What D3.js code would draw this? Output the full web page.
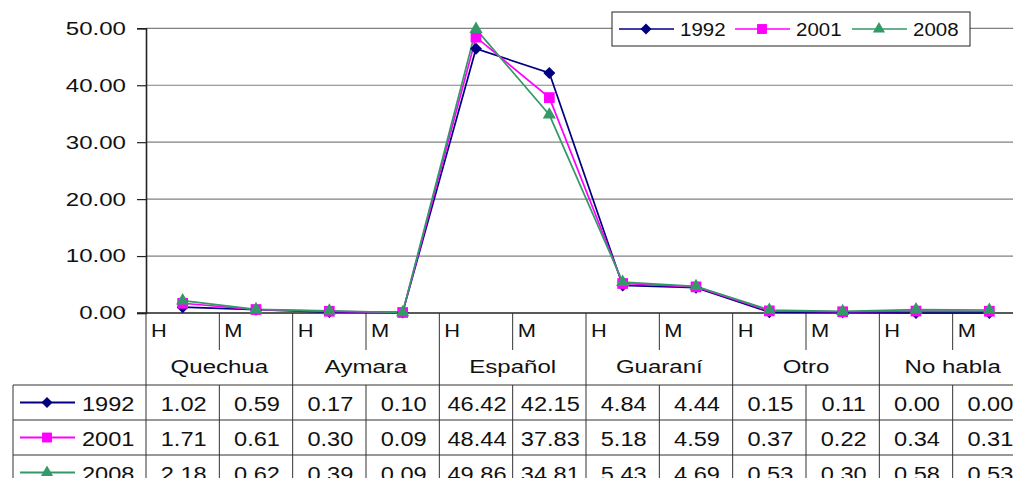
<!DOCTYPE html>
<html lang="es">
<head>
<meta charset="UTF-8">
<title>Idioma por sexo</title>
<script src="https://d3js.org/d3.v7.min.js"></script>
<style>
  body { margin: 0; background: #fff; }
  svg { font-family: "Liberation Sans", Arial, sans-serif; }
  text { fill: #111; }
</style>
</head>
<body>
<script>
  const languages = ["Quechua", "Aymara", "Español", "Guaraní", "Otro", "No habla"];
  const sexes = ["H", "M"];
  const years = ["1992", "2001", "2008"];
  const values1992 = [1.02, 0.59, 0.17, 0.10, 46.42, 42.15, 4.84, 4.44, 0.15, 0.11, 0.00, 0.00];
  const values2001 = [1.71, 0.61, 0.30, 0.09, 48.44, 37.83, 5.18, 4.59, 0.37, 0.22, 0.34, 0.31];
  const values2008 = [2.18, 0.62, 0.39, 0.09, 49.86, 34.81, 5.43, 4.69, 0.53, 0.30, 0.58, 0.53];
  const yTicks = [0, 10, 20, 30, 40, 50];

  // diamond drawn as a square turned 45 degrees (wider than d3's own diamond)
  const wideDiamond = {
    draw(ctx, size) {
      const r = Math.sqrt(size / 2);
      ctx.moveTo(0, -r); ctx.lineTo(r, 0); ctx.lineTo(0, r); ctx.lineTo(-r, 0); ctx.closePath();
    }
  };

  const series = [
    { name: years[0], values: values1992, color: "#000080", symbol: wideDiamond, size: 72 },
    { name: years[1], values: values2001, color: "#ff00ff", symbol: d3.symbolSquare, size: 115 },
    { name: years[2], values: values2008, color: "#339966", symbol: d3.symbolTriangle, size: 75 }
  ];

  const width = 1013, height = 478;
  const plotLeft = 146, plotRight = 1026, plotTop = 28.3, plotBottom = 313;
  const rowH = 35, tableTop = 385, tableLeft = 13;

  const cats = d3.range(languages.length * sexes.length);
  const x = d3.scaleBand().domain(cats).range([plotLeft, plotRight]);
  const y = d3.scaleLinear().domain([0, 50]).range([plotBottom, plotTop]);

  const svg = d3.select("body").append("svg")
    .attr("width", width)
    .attr("height", height);

  // the source picture's text is stretched sideways, so texts get a horizontal scale
  function wide(sel, px, py, sx) {
    return sel.attr("transform", (d, i) => `translate(${px(d, i)},${py(d, i)}) scale(${sx},1)`);
  }

  // gridlines
  svg.append("g")
    .selectAll("line")
    .data(yTicks.filter(d => d > 0))
    .join("line")
    .attr("x1", plotLeft).attr("x2", plotRight)
    .attr("y1", d => y(d)).attr("y2", d => y(d))
    .attr("stroke", "#808080").attr("stroke-width", 1.2);

  // y axis
  const yAxis = svg.append("g")
    .attr("transform", `translate(${plotLeft},0)`)
    .call(d3.axisLeft(y).tickValues(yTicks).tickFormat(d3.format(".2f")).tickSize(9));
  yAxis.select(".domain").attr("stroke", "#222").attr("stroke-width", 1.6);
  yAxis.selectAll(".tick line").attr("stroke", "#222").attr("stroke-width", 1.2);
  yAxis.selectAll(".tick text")
    .attr("x", null)
    .attr("transform", "translate(-20,0) scale(1.3,1)")
    .attr("font-size", 18.5).attr("fill", "#111")
    .attr("font-family", "Liberation Sans, Arial, sans-serif");

  // baseline at zero
  svg.append("line")
    .attr("x1", plotLeft - 9).attr("x2", plotRight)
    .attr("y1", y(0)).attr("y2", y(0))
    .attr("stroke", "#222").attr("stroke-width", 1.6);

  // category axis: H / M row
  const bw = x.bandwidth();
  const catG = svg.append("g");
  catG.selectAll("line.sep")
    .data(cats.filter(i => i % 2 === 1))
    .join("line").attr("class", "sep")
    .attr("x1", i => x(i)).attr("x2", i => x(i))
    .attr("y1", y(0)).attr("y2", 350)
    .attr("stroke", "#333").attr("stroke-width", 1);
  wide(catG.selectAll("text.sex")
    .data(cats)
    .join("text").attr("class", "sex")
    .attr("font-size", 19)
    .text(i => sexes[i % 2]), i => x(i) + 5, () => 337, 1.15);

  // language group lines (extend down through table)
  catG.selectAll("line.grp")
    .data(d3.range(languages.length + 1))
    .join("line").attr("class", "grp")
    .attr("x1", g => plotLeft + g * 2 * bw).attr("x2", g => plotLeft + g * 2 * bw)
    .attr("y1", y(0)).attr("y2", height)
    .attr("stroke", "#333").attr("stroke-width", 1);
  wide(catG.selectAll("text.lang")
    .data(languages)
    .join("text").attr("class", "lang")
    .attr("text-anchor", "middle")
    .attr("font-size", 18.5)
    .text(d => d), (d, g) => plotLeft + g * 2 * bw + bw, () => 373, 1.3);

  // data table
  const tbl = svg.append("g");
  tbl.selectAll("line.row")
    .data(d3.range(series.length + 1))
    .join("line").attr("class", "row")
    .attr("x1", tableLeft).attr("x2", plotRight)
    .attr("y1", r => tableTop + r * rowH).attr("y2", r => tableTop + r * rowH)
    .attr("stroke", "#333").attr("stroke-width", 1);
  tbl.append("line")
    .attr("x1", tableLeft).attr("x2", tableLeft)
    .attr("y1", tableTop).attr("y2", height)
    .attr("stroke", "#333").attr("stroke-width", 1);
  tbl.selectAll("line.col")
    .data(cats.filter(i => i % 2 === 1))
    .join("line").attr("class", "col")
    .attr("x1", i => x(i)).attr("x2", i => x(i))
    .attr("y1", tableTop).attr("y2", height)
    .attr("stroke", "#333").attr("stroke-width", 1);

  series.forEach((s, r) => {
    const cy = tableTop + r * rowH + rowH / 2;
    const row = tbl.append("g");
    row.append("line")
      .attr("x1", 20).attr("x2", 75).attr("y1", cy).attr("y2", cy)
      .attr("stroke", s.color).attr("stroke-width", 2);
    row.append("path")
      .attr("d", d3.symbol(s.symbol, s.size * 0.85)())
      .attr("transform", `translate(47,${cy})`)
      .attr("fill", s.color);
    wide(row.append("text")
      .attr("font-size", 19.5)
      .text(s.name), () => 82, () => cy + 8, 1.21);
    wide(row.selectAll("text.val")
      .data(s.values)
      .join("text").attr("class", "val")
      .attr("text-anchor", "middle")
      .attr("font-size", 19.5)
      .text(d => d.toFixed(2)), (d, i) => x(i) + bw / 2 + 1, () => cy + 8, 1.21);
  });

  // lines + markers
  const line = d3.line().x((d, i) => x(i) + bw / 2).y(d => y(d));
  series.forEach(s => {
    svg.append("path")
      .datum(s.values)
      .attr("d", line)
      .attr("fill", "none")
      .attr("stroke", s.color)
      .attr("stroke-width", 1.7);
  });
  series.forEach(s => {
    svg.append("g")
      .selectAll("path")
      .data(s.values)
      .join("path")
      .attr("d", d3.symbol(s.symbol, s.size)())
      .attr("transform", (d, i) => `translate(${x(i) + bw / 2},${y(d)})`)
      .attr("fill", s.color);
  });

  // legend
  const lg = svg.append("g");
  lg.append("rect")
    .attr("x", 612).attr("y", 12).attr("width", 358).attr("height", 34)
    .attr("fill", "#fff").attr("stroke", "#222").attr("stroke-width", 1);
  const legX = [619, 735, 852];
  series.forEach((s, k) => {
    const lx = legX[k], ly = 29;
    lg.append("line")
      .attr("x1", lx).attr("x2", lx + 55).attr("y1", ly).attr("y2", ly)
      .attr("stroke", s.color).attr("stroke-width", 1.7);
    lg.append("path")
      .attr("d", d3.symbol(s.symbol, s.size * 0.85)())
      .attr("transform", `translate(${lx + 27},${ly})`)
      .attr("fill", s.color);
    wide(lg.append("text")
      .attr("font-size", 17.8)
      .text(s.name), () => lx + 61, () => ly + 6.5, 1.15);
  });
</script>
</body>
</html>
